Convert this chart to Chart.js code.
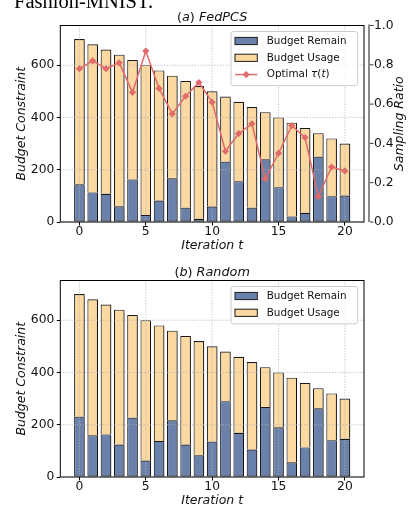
<!DOCTYPE html>
<html>
<head>
<meta charset="utf-8">
<script src="https://cdn.jsdelivr.net/npm/chart.js@4.4.1/dist/chart.umd.min.js"></script>
<style>
  html, body { margin: 0; padding: 0; background: #fff; overflow: hidden; }
  #page { position: relative; width: 413px; height: 507px; overflow: hidden; background: #fff; }
  .panel { position: absolute; left: 0; width: 413px; height: 255px; }
  #caption {
    position: absolute; left: 14px; top: -8.9px;
    font-family: "Liberation Serif", "Times New Roman", serif;
    font-size: 20.5px; line-height: 20.5px; white-space: nowrap; color: #000;
  }
</style>
</head>
<body>
<div id="page">
  <canvas id="panelA" class="panel" width="413" height="255" style="top:0px"></canvas>
  <canvas id="panelB" class="panel" width="413" height="255" style="top:255px"></canvas>
  <div id="caption">Fashion-MNIST.</div>
</div>
<script>
// Iterations on the x axis
const iterations = [0, 1, 2, 3, 4, 5, 6, 7, 8, 9, 10, 11, 12, 13, 14, 15, 16, 17, 18, 19, 20];

// (a) FedPCS: remaining and used budget per iteration, plus the chosen sampling ratio
const fedpcsRemain = [144, 113, 108, 60, 163, 27, 82, 167, 55, 12, 59, 231, 156, 55, 240, 133, 21, 35, 250, 99, 101];
const fedpcsUsage  = [556, 567, 552, 580, 457, 573, 498, 393, 485, 508, 441, 249, 304, 385, 180, 267, 359, 325, 90, 221, 199];
const fedpcsRatio  = [0.78, 0.82, 0.78, 0.81, 0.66, 0.87, 0.68, 0.55, 0.64, 0.71, 0.61, 0.36, 0.45, 0.50, 0.22, 0.35, 0.49, 0.43, 0.13, 0.28, 0.26];

// (b) Random: remaining and used budget per iteration
const randomRemain = [231, 160, 163, 124, 227, 63, 138, 217, 124, 83, 135, 290, 169, 105, 268, 190, 56, 113, 263, 141, 146];
const randomUsage  = [469, 520, 497, 516, 393, 537, 442, 343, 416, 437, 365, 190, 291, 335, 152, 210, 324, 247, 77, 179, 154];

// Tick positions
const iterationTicks = [0, 5, 10, 15, 20];
const budgetTicks = [0, 200, 400, 600];
const ratioTicks = [0.0, 0.2, 0.4, 0.6, 0.8, 1.0];

const FONT = '"DejaVu Sans", "Liberation Sans", sans-serif';
const INK = '#111111';
const EDGE = '#1a1a1a';
const REMAIN_COLOR = '#6a82ab';
const USAGE_COLOR = '#fcd9a1';
const TAU_COLOR = '#e16a6b';

function setFont(ctx, size, italic) {
  ctx.font = (italic ? 'italic ' : '') + size + 'px ' + FONT;
}

// Draw a string made of upright/italic runs
function drawRuns(ctx, runs, x, y, size, align) {
  const widths = runs.map(([t, it]) => { setFont(ctx, size, it); return ctx.measureText(t).width; });
  const total = widths.reduce((a, b) => a + b, 0);
  let cx = align === 'center' ? x - total / 2 : x;
  ctx.textAlign = 'left';
  ctx.textBaseline = 'middle';
  runs.forEach(([t, it], i) => {
    setFont(ctx, size, it);
    ctx.fillText(t, cx, y);
    cx += widths[i];
  });
}

function drawGrid(chart) {
  const { ctx, chartArea: a, scales } = chart;
  ctx.save();
  ctx.strokeStyle = '#b2b2b2';
  ctx.lineWidth = 0.8;
  ctx.setLineDash([1.2, 1.6]);
  scales.x.ticks.forEach(t => {
    const px = scales.x.getPixelForValue(t.value);
    ctx.beginPath(); ctx.moveTo(px, a.top); ctx.lineTo(px, a.bottom); ctx.stroke();
  });
  scales.y.ticks.forEach(t => {
    const py = scales.y.getPixelForValue(t.value);
    ctx.beginPath(); ctx.moveTo(a.left, py); ctx.lineTo(a.right, py); ctx.stroke();
  });
  ctx.restore();
}

function drawLegend(chart) {
  const { ctx, chartArea: a } = chart;
  const items = chart.options.plugins.panelDecor.legend;
  const rowH = 16.8;
  const firstY = a.top + 15.5;
  const boxL = a.right - 133, boxR = a.right - 6.3;
  const boxT = firstY - 9.5;
  const boxB = firstY + (items.length - 1) * rowH + 11;
  ctx.save();
  ctx.beginPath();
  ctx.roundRect(boxL, boxT, boxR - boxL, boxB - boxT, 2.5);
  ctx.fillStyle = 'rgba(255,255,255,0.8)';
  ctx.fill();
  ctx.strokeStyle = '#cccccc';
  ctx.lineWidth = 1;
  ctx.stroke();
  const hx = a.right - 129, hw = 22.3, tx = a.right - 97.3;
  items.forEach((it, i) => {
    const cy = firstY + i * rowH;
    if (it.kind === 'patch') {
      ctx.fillStyle = it.color;
      ctx.fillRect(hx, cy - 3.6, hw, 7.2);
      ctx.strokeStyle = EDGE;
      ctx.lineWidth = 1;
      ctx.strokeRect(hx, cy - 3.6, hw, 7.2);
    } else {
      ctx.strokeStyle = it.color;
      ctx.lineWidth = 1.5;
      ctx.beginPath(); ctx.moveTo(hx, cy); ctx.lineTo(hx + hw, cy); ctx.stroke();
      const mx = hx + hw / 2, r = 3.6;
      ctx.fillStyle = it.color;
      ctx.beginPath();
      ctx.moveTo(mx - r, cy); ctx.lineTo(mx, cy - r); ctx.lineTo(mx + r, cy); ctx.lineTo(mx, cy + r);
      ctx.closePath(); ctx.fill();
    }
    ctx.fillStyle = INK;
    drawRuns(ctx, it.runs, tx, cy, 10.4, 'left');
  });
  ctx.restore();
}

const panelDecor = {
  id: 'panelDecor',
  beforeDatasetDraw(chart, args) {
    const ctx = chart.ctx;
    if (args.meta.type === 'bar') {
      ctx.save();
      ctx.shadowColor = 'rgba(0,0,0,0.3)';
      ctx.shadowOffsetX = 1.5;
      ctx.shadowOffsetY = 1.5;
      ctx.shadowBlur = 0;
    } else if (args.meta.type === 'line') {
      drawGrid(chart);
    }
  },
  afterDatasetDraw(chart, args) {
    if (args.meta.type === 'bar') chart.ctx.restore();
  },
  afterDatasetsDraw(chart) {
    const hasLine = chart.data.datasets.some(d => d.type === 'line');
    if (!hasLine) drawGrid(chart);
    drawLegend(chart);
  },
  afterDraw(chart, args, opts) {
    const { ctx, chartArea: a, scales } = chart;
    ctx.save();
    // axes frame
    ctx.strokeStyle = '#000';
    ctx.lineWidth = 1;
    ctx.strokeRect(a.left, a.top, a.right - a.left, a.bottom - a.top);
    // panel title
    ctx.fillStyle = INK;
    drawRuns(ctx, opts.titleRuns, (a.left + a.right) / 2, 17.6, 12.8, 'center');
    // secondary axis: offset grey spine, tick marks and title
    if (scales.y1) {
      const sx = a.right + 5;
      ctx.strokeStyle = '#8a8a8a';
      ctx.lineWidth = 2;
      ctx.beginPath(); ctx.moveTo(sx, a.top - 1); ctx.lineTo(sx, a.bottom); ctx.stroke();
      ctx.strokeStyle = '#222';
      ctx.lineWidth = 0.9;
      scales.y1.ticks.forEach(t => {
        const py = scales.y1.getPixelForValue(t.value);
        ctx.beginPath(); ctx.moveTo(sx + 1, py); ctx.lineTo(sx + 4.5, py); ctx.stroke();
      });
      ctx.translate(400, (a.top + a.bottom) / 2);
      ctx.rotate(-Math.PI / 2);
      ctx.fillStyle = INK;
      drawRuns(ctx, [['Sampling Ratio', true]], 0, 0, 12.5, 'center');
    }
    ctx.restore();
  }
};

function points(values) {
  return iterations.map((x, i) => ({ x: x, y: values[i] }));
}

function makePanel(canvasId, titleRuns, remain, usage, ratio) {
  const datasets = [
    {
      type: 'bar', label: 'Budget Remain', data: points(remain),
      backgroundColor: REMAIN_COLOR, borderColor: EDGE, borderWidth: 1.1,
      borderSkipped: false, inflateAmount: 0, order: 1,
      barPercentage: 0.8, categoryPercentage: 1.0
    },
    {
      type: 'bar', label: 'Budget Usage', data: points(usage),
      backgroundColor: USAGE_COLOR, borderColor: EDGE, borderWidth: 1.1,
      borderSkipped: 'start', inflateAmount: 0, order: 1,
      barPercentage: 0.8, categoryPercentage: 1.0
    }
  ];
  const legend = [
    { kind: 'patch', color: REMAIN_COLOR, runs: [['Budget Remain', false]] },
    { kind: 'patch', color: USAGE_COLOR, runs: [['Budget Usage', false]] }
  ];
  const scales = {
    x: {
      type: 'linear', position: 'bottom', stacked: true, min: -1.44, max: 21.44, offset: false,
      afterBuildTicks: s => { s.ticks = iterationTicks.map(v => ({ value: v })); },
      afterFit: s => { s.height = 33; },
      grid: { display: true, offset: false, drawOnChartArea: false, drawTicks: true, tickLength: 3.5, color: '#000', lineWidth: 1 },
      border: { display: false },
      ticks: { font: { family: FONT, size: 12.3, lineHeight: 1 }, color: INK, padding: 0, maxRotation: 0, callback: v => String(v) },
      title: { display: true, text: 'Iteration t', font: { family: FONT, size: 12.5, style: 'italic', lineHeight: 1.2 }, color: INK, padding: { top: 0, bottom: 2 } }
    },
    y: {
      type: 'linear', position: 'left', stacked: true, min: 0, max: 752,
      afterBuildTicks: s => { s.ticks = budgetTicks.map(v => ({ value: v })); },
      afterFit: s => { s.width = 60.3; },
      grid: { display: true, drawOnChartArea: false, drawTicks: true, tickLength: 3.5, color: '#000', lineWidth: 1 },
      border: { display: false },
      ticks: { font: { family: FONT, size: 12.3 }, color: INK, padding: 2.5, callback: v => String(v) },
      title: { display: true, text: 'Budget Constraint', font: { family: FONT, size: 12.5, style: 'italic', lineHeight: 1.2 }, color: INK, padding: { top: 14.2, bottom: 0 } }
    }
  };
  let padRight = 49;
  if (ratio) {
    datasets.push({
      type: 'line', label: 'Optimal τ(t)', data: points(ratio), yAxisID: 'y1',
      borderColor: TAU_COLOR, borderWidth: 1.5, tension: 0, fill: false, order: 0,
      pointStyle: 'rectRot', pointRadius: 3.6, pointBackgroundColor: TAU_COLOR,
      pointBorderColor: TAU_COLOR, pointBorderWidth: 0
    });
    legend.push({ kind: 'line', color: TAU_COLOR, runs: [['Optimal ', false], ['τ', true], ['(', false], ['t', true], [')', false]] });
    scales.y1 = {
      type: 'linear', position: 'right', stacked: false, min: 0, max: 1,
      afterBuildTicks: s => { s.ticks = ratioTicks.map(v => ({ value: v })); },
      afterFit: s => { s.width = 49; },
      grid: { display: false, drawOnChartArea: false, drawTicks: false },
      border: { display: false },
      ticks: { font: { family: FONT, size: 12.3 }, color: INK, padding: 10, callback: v => Number(v).toFixed(1) }
    };
    padRight = 0;
  }
  return new Chart(document.getElementById(canvasId), {
    type: 'bar',
    data: { datasets: datasets },
    options: {
      responsive: false,
      animation: false,
      events: [],
      layout: { padding: { top: 25.5, left: 0, right: padRight, bottom: 0 } },
      plugins: {
        legend: { display: false },
        tooltip: { enabled: false },
        title: { display: false },
        panelDecor: { titleRuns: titleRuns, legend: legend }
      },
      scales: scales
    },
    plugins: [panelDecor]
  });
}

makePanel('panelA', [['(', false], ['a', true], [')', false], [' FedPCS', true]], fedpcsRemain, fedpcsUsage, fedpcsRatio);
makePanel('panelB', [['(', false], ['b', true], [')', false], [' Random', true]], randomRemain, randomUsage, null);
</script>
</body>
</html>
